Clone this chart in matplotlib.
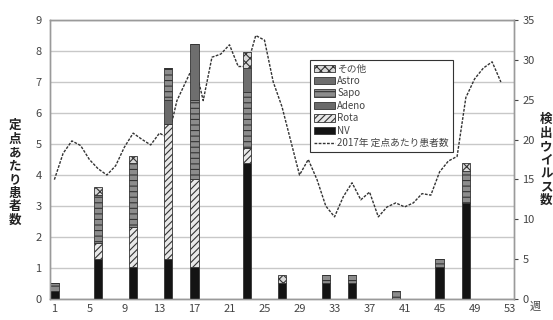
import numpy as np
import matplotlib.pyplot as plt
from matplotlib.patches import Patch
from matplotlib.lines import Line2D

plt.rcParams['font.family'] = ['Noto Sans CJK JP', 'DejaVu Sans']
plt.rcParams['hatch.linewidth'] = 0.8

# weekly patients per sentinel (left axis), weeks 1-52
weeks = np.arange(1, 53)
patients = [3.85, 4.7, 5.1, 4.95, 4.5, 4.2, 4.0, 4.3, 4.9, 5.35,
            5.15, 4.97, 5.35, 5.2, 6.4, 7.0, 7.6, 6.4, 7.8, 7.9,
            8.2, 7.5, 7.5, 8.5, 8.35, 7.0, 6.2, 5.1, 4.0, 4.5,
            3.85, 3.0, 2.65, 3.3, 3.75, 3.2, 3.45, 2.65, 2.97, 3.1,
            2.97, 3.1, 3.4, 3.35, 4.1, 4.45, 4.6, 6.5, 7.1, 7.45,
            7.65, 7.0]

# detected viruses (right axis)
bar_weeks = [1, 6, 10, 14, 17, 23, 27, 32, 35, 40, 45, 48]
nv    = [1, 5, 4, 5, 4, 17, 2, 2, 2, 0, 4, 12]
rota  = [0, 2, 5, 17, 11, 2, 0, 0, 0, 0, 0, 0]
adeno = [0, 0, 0, 3, 0, 0, 0, 0, 0, 0, 0, 0]
sapo  = [1, 6, 8, 4, 10, 7, 0, 1, 1, 1, 1, 4]
astro = [0, 0, 0, 0, 7, 3, 0, 0, 0, 0, 0, 0]
other = [0, 1, 1, 0, 0, 2, 1, 0, 0, 0, 0, 1]

xticks = [1, 5, 9, 13, 17, 21, 25, 29, 33, 37, 41, 45, 49, 53]

fig = plt.figure(figsize=(5.53, 3.2), dpi=100)
ax = fig.add_axes([0.0904, 0.0656, 0.8391, 0.8719])
ax2 = ax.twinx()

ax.plot(weeks, patients, color='#333333', lw=1.0, linestyle=(0, (2, 1)))
ax.set_xlim(0.5, 53.5)
ax.set_ylim(0, 9)
ax.set_yticks(range(10))
ax.set_xticks(xticks)
ax.yaxis.grid(True, color='#c8c8c8', lw=1)
ax.set_axisbelow(True)
ax.tick_params(axis='both', labelsize=8, colors='#444444', length=0)
ax.tick_params(axis='y', pad=6)

series = [
    (nv, 'NV', '#141414', None),
    (rota, 'Rota', '#e8e8e8', '/////'),
    (adeno, 'Adeno', '#6a6a6a', None),
    (sapo, 'Sapo', '#8c8c8c', '---'),
    (astro, 'Astro', '#6e6e6e', None),
    (other, 'その他', '#d8d8d8', 'xxxx'),
]
bottom = np.zeros(len(bar_weeks))
handles = {}
for vals, name, col, hatch in series:
    vals = np.array(vals)
    ax2.bar(bar_weeks, vals, width=0.95, bottom=bottom, color=col,
            hatch=hatch, edgecolor='#333333', linewidth=0.6)
    handles[name] = Patch(facecolor=col, hatch=hatch, edgecolor='#333333', linewidth=0.6)
    bottom += vals

ax2.set_ylim(0, 35)
ax2.set_yticks(range(0, 36, 5))
ax2.tick_params(axis='y', labelsize=8, colors='#444444', length=3, pad=3)

for a in (ax, ax2):
    for s in a.spines.values():
        s.set_color('#9a9a9a')
        s.set_linewidth(1)

line_h = Line2D([], [], color='#333333', lw=1.0, linestyle=(0, (2, 1)))
order = ['その他', 'Astro', 'Sapo', 'Adeno', 'Rota', 'NV']
leg = ax2.legend([handles[k] for k in order] + [line_h],
                 order + ['2017年 定点あたり患者数'],
                 loc='upper left', bbox_to_anchor=(0.55, 0.875),
                 fontsize=7, fancybox=False, framealpha=1,
                 edgecolor='#333333', handlelength=2.2, handleheight=0.8,
                 labelspacing=0.25, borderpad=0.4, handletextpad=0.2)
leg.get_frame().set_linewidth(0.8)
for t in leg.get_texts():
    t.set_color('#444444')

fig.text(0.027, 0.46, '\n'.join('定点あたり患者数'), ha='center', va='center',
         fontsize=9, fontweight='bold', linespacing=1.05, color='#222222')
fig.text(0.988, 0.50, '\n'.join('検出ウイルス数'), ha='center', va='center',
         fontsize=9, fontweight='bold', linespacing=1.05, color='#222222')
fig.text(0.967, 0.04, '週', ha='center', va='center', fontsize=8, color='#444444')

fig.savefig('out.png', dpi=100)
